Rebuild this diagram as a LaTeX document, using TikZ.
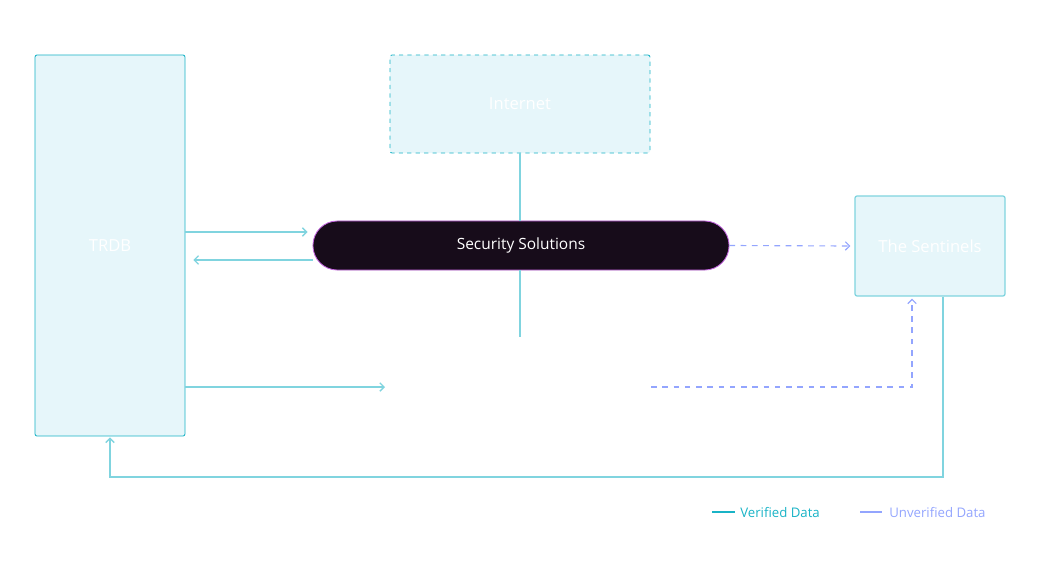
\documentclass[tikz,border=0pt]{standalone}
\usepackage{fontspec}
\setmainfont{Open Sans}
\definecolor{SECteal}{HTML}{19B3C6}
\definecolor{SECline}{HTML}{80D4DF}
\definecolor{SECfill}{HTML}{E6F6FA}
\definecolor{SECink}{HTML}{170C1A}
\definecolor{SECviolet}{HTML}{C466E0}
\definecolor{SEClav}{HTML}{93A5FE}
\usetikzlibrary{arrows.meta, positioning, calc}

\tikzset{
   sysbox/.style={draw=SECteal, fill=SECfill, line width=0.6pt, rounded corners=1.5pt,
      text=white, font=\fontsize{11.8}{14}\selectfont, inner sep=0pt},
   pillbox/.style={draw=SECviolet, fill=SECink, line width=0.6pt, rounded corners=17.3pt,
      text=white, font=\fontsize{11}{13}\selectfont, inner sep=0pt},
   vline/.style={SECline, line width=0.9pt},
   uline/.style={SEClav, line width=0.8pt, dash pattern=on 4pt off 4pt},
   tip/.style={-{Straight Barb[length=3pt, width=6pt]}},
   legtext/.style={font=\fontsize{9.4}{11}\selectfont, anchor=west, inner sep=0pt}
}

\begin{document}
\begin{tikzpicture}[x=0.025cm, y=-0.025cm]
   \useasboundingbox (0,0) rectangle (1040,560);
   % Systems
   \node[sysbox, minimum width=3.75cm, minimum height=9.525cm] (trdb) at (110,245.5) {TRDB};
   \node[sysbox, dashed, minimum width=6.5cm, minimum height=2.45cm] (internet) at (520,104) {Internet};
   \node[sysbox, draw=SECline, line width=0.9pt, minimum width=3.75cm, minimum height=2.5cm] (sentinels) at (930,246) {The Sentinels};
   % Security Solutions pill
   \node[pillbox, minimum width=10.4cm, minimum height=1.225cm] (ss) at (521,245.5) {Security Solutions};
   % free ends in the middle
   \coordinate (midn) at (520,337);
   \coordinate (midw) at (385,387);
   \coordinate (mide) at (651,387);
   % Internet -- Security Solutions -- below
   \draw[vline] (internet.south) -- (ss.north -| internet.south);
   \draw[vline] (ss.south -| internet.south) -- (midn);
   % TRDB <-> Security Solutions
   \draw[vline, tip] (trdb.east |- 0,232) -- ([xshift=-5*0.025cm]ss.west |- 0,232);
   \draw[vline, tip] (ss.west |- 0,260) -- ([xshift=8*0.025cm]trdb.east |- 0,260);
   % TRDB -> middle
   \draw[vline, tip] (trdb.east |- midw) -- (midw);
   % unverified flows to The Sentinels
   \draw[uline, tip] (ss.east) -- ([xshift=-4*0.025cm]sentinels.west);
   \draw[uline, tip] (mide) -| ([yshift=-2*0.025cm]sentinels.south -| 912,0);
   % The Sentinels back to TRDB
   \draw[vline, tip] (sentinels.south -| 943,0) |- (110,477) -- ([yshift=-1*0.025cm]trdb.south);
   % Legend
   \draw[SECteal, line width=1.2pt] (712,512) -- (735,512) coordinate (lv);
   \node[legtext, text=SECteal] (lvtext) at (740,512) {Verified Data};
   \draw[SEClav, line width=1.2pt] (860,512) -- (882,512) coordinate (lu);
   \node[legtext, text=SEClav] (lutext) at (889,512) {Unverified Data};
\end{tikzpicture}
\end{document}
